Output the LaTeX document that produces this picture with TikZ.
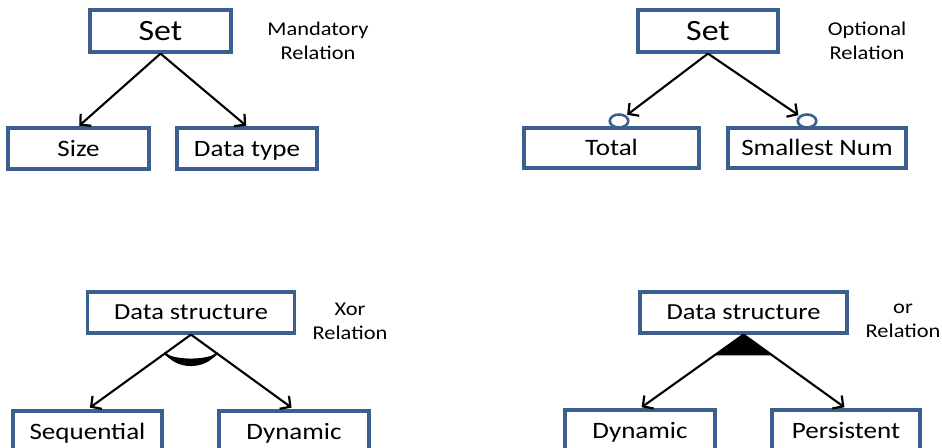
\documentclass[tikz,border=0pt]{standalone}
\usepackage{fontspec}
\setmainfont[FakeStretch=1.15]{Carlito}
\usetikzlibrary{arrows.meta,shapes.geometric,calc}
\definecolor{boxblue}{HTML}{3B6090}
\tikzset{
  box/.style={draw=boxblue, line width=3.2pt, fill=white, inner sep=0pt,
    minimum height=41pt, text height=16pt, text depth=1pt,
    font=\fontsize{23.5}{26}\selectfont},
  topbox/.style={box, text height=20pt, text depth=1pt, font=\fontsize{29.5}{32}\selectfont},
  dsbox/.style={box, minimum width=207pt, text height=15.5pt, font=\fontsize{23}{26}\selectfont},
  rel/.style={align=center, font=\fontsize{19.5}{24}\selectfont},
  arr/.style={-{Straight Barb[length=7.5pt,width=16pt,line width=2.2pt]}, line width=2.1pt, shorten >=1pt},
  opt/.style={ellipse, draw=boxblue, fill=white, line width=2.6pt, minimum width=18.5pt, minimum height=13pt, inner sep=0pt}
}
\begin{document}
\begin{tikzpicture}[x=1pt, y=-1pt]
\useasboundingbox (0,0) rectangle (942,447);
\clip (0,0) rectangle (942,447);

% Mandatory relation
\node[topbox, minimum width=141pt, minimum height=42pt] (set1) at (160.5,31) {Set};
\node[box, minimum width=141pt] (size) at (78.5,148.5) {Size};
\node[box, minimum width=140pt] (dtype) at (247,148.5) {Data type};
\node[rel] (mand) at (318,41) {Mandatory\\Relation};
\draw[arr] (set1.south) -- (size.north);
\draw[arr] (set1.south) -- (dtype.north);

% Optional relation
\node[topbox, minimum width=140pt, minimum height=42pt] (set2) at (708,31) {Set};
\node[box, minimum width=175pt, minimum height=40pt] (total) at (611.5,148) {Total};
\node[box, minimum width=178pt, minimum height=40pt] (small) at (817,148) {Smallest Num};
\node[opt] (o1) at (619,121) {};
\node[opt] (o2) at (807,121) {};
\node[rel] (optl) at (867,41) {Optional\\Relation};
\draw[arr] (set2.south) -- (o1);
\draw[arr] (set2.south) -- (o2);

% Xor relation
\node[dsbox] (ds1) at (191,312.5) {Data structure};
\node[box, minimum width=149pt] (seq) at (87.5,431.5) {Sequential};
\node[box, minimum width=150pt] (dyn1) at (294,431.5) {Dynamic};
\node[rel] (xorl) at (350,321) {Xor\\Relation};
\draw[arr, shorten >=3pt] (ds1.south) -- (seq.north);
\draw[arr, shorten >=3pt] (ds1.south) -- (dyn1.north);
\coordinate (xa) at ($(ds1.south)!0.25!(seq.north)$);
\coordinate (xb) at ($(ds1.south)!0.25!(dyn1.north)$);
\fill (xa) .. controls ($(xa)+(11,17)$) and ($(xb)+(-11,17)$) .. (xb)
      .. controls ($(xb)+(-11,7)$) and ($(xa)+(11,7)$) .. (xa) -- cycle;
\draw[line width=2.4pt, line cap=round] (xa) .. controls ($(xa)+(11,12)$) and ($(xb)+(-11,12)$) .. (xb);

% Or relation
\node[dsbox] (ds2) at (743.5,312.5) {Data structure};
\node[box, minimum width=150pt] (dyn2) at (640,430.5) {Dynamic};
\node[box, minimum width=148pt] (pers) at (846,430.5) {Persistent};
\node[rel] (orl) at (903,321) {or\\Relation};
\draw[arr, shorten >=2pt] (ds2.south) -- (dyn2.north);
\draw[arr, shorten >=2pt] (ds2.south) -- (pers.north);
\fill (ds2.south) -- ($(ds2.south)!0.28!(dyn2.north)$) -- ($(ds2.south)!0.28!(pers.north)$) -- cycle;
\end{tikzpicture}
\end{document}
